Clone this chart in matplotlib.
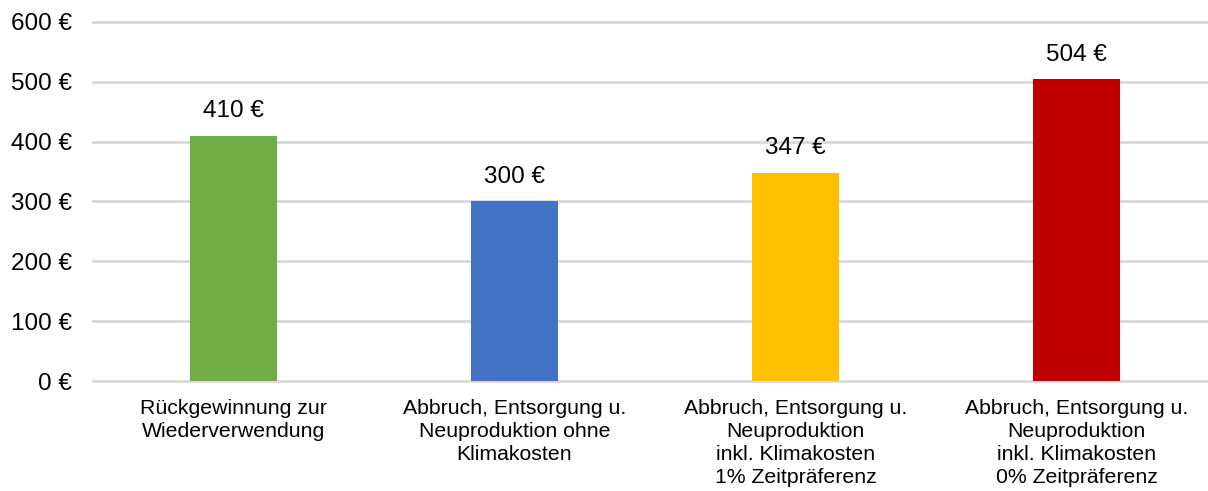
import matplotlib
matplotlib.use("Agg")
import matplotlib.pyplot as plt
import matplotlib.ticker as mt

categories = [
    "Rückgewinnung zur\nWiederverwendung",
    "Abbruch, Entsorgung u.\nNeuproduktion ohne\nKlimakosten",
    "Abbruch, Entsorgung u.\nNeuproduktion\ninkl. Klimakosten\n1% Zeitpräferenz",
    "Abbruch, Entsorgung u.\nNeuproduktion\ninkl. Klimakosten\n0% Zeitpräferenz",
]
values = [410, 300, 347, 504]
colors = ["#70AD47", "#4472C4", "#FFC000", "#C00000"]
yticks = [0, 100, 200, 300, 400, 500, 600]

plt.rcParams["font.family"] = ["Liberation Sans", "DejaVu Sans"]

fig = plt.figure(figsize=(12.08, 4.91), dpi=100)
ax = fig.add_axes([93 / 1208, 110 / 491, 1124 / 1208, 359 / 491])

x = range(len(values))
ax.bar(x, values, width=0.313, color=colors, zorder=3)
for xi, v in zip(x, values):
    ax.annotate(f"{v} €", (xi, v), xytext=(0, 10), textcoords="offset points",
                ha="center", va="bottom", fontsize=17.5)

ax.set_xlim(-0.5, 3.5)
ax.set_ylim(0, 600)
ax.set_yticks(yticks)
ax.yaxis.set_major_formatter(mt.FuncFormatter(lambda v, _: f"{v:.0f} €"))
ax.set_xticks(list(x))
ax.set_xticklabels(categories, fontsize=15.3, linespacing=1.27)
ax.tick_params(axis="y", length=0, labelsize=17.5, pad=15)
ax.tick_params(axis="x", length=0, pad=13)
ax.grid(axis="y", color="#D9D9D9", lw=2, zorder=0)
for gl in ax.get_ygridlines():
    gl.set_clip_on(False)
for s in ax.spines.values():
    s.set_visible(False)

fig.savefig("out.png", dpi=100)
